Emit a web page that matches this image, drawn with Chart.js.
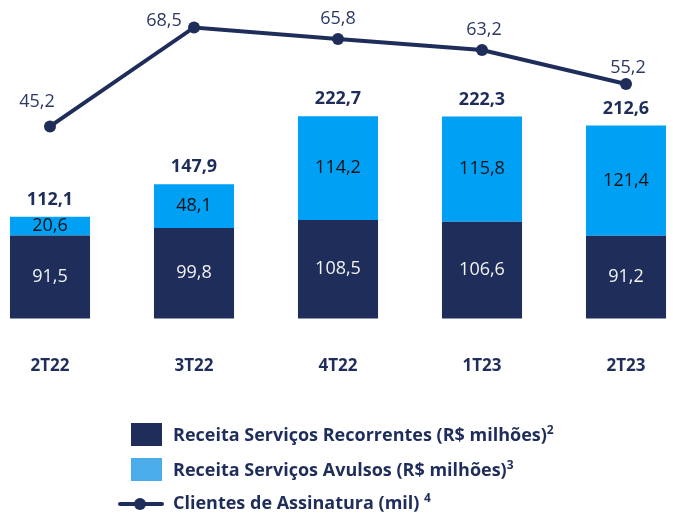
<!DOCTYPE html>
<html>
<head>
<meta charset="utf-8">
<script src="https://cdn.jsdelivr.net/npm/chart.js@4.4.1/dist/chart.umd.min.js"></script>
<style>
  html, body { margin: 0; padding: 0; background: #fff; }
  #wrap { position: relative; width: 673px; height: 514px; font-family: "Open Sans", sans-serif; }
  #chart { position: absolute; left: 0; top: 0; }
  .leg { position: absolute; left: 173px; font-weight: bold; font-size: 18px; color: #1F2D5A; white-space: nowrap; line-height: 22px; }
  .sw { position: absolute; width: 31px; height: 23px; }
  sup { font-size: 12px; vertical-align: 7px; line-height: 0; }
</style>
</head>
<body>
<div id="wrap">
  <canvas id="chart" width="673" height="514"></canvas>
  <div class="sw" style="left:131px; top:423px; background:#1F2D5A"></div>
  <div class="leg" style="top:423px">Receita Serviços Recorrentes (R$ milhões)<sup>2</sup></div>
  <div class="sw" style="left:131px; top:458px; background:#4AACE8"></div>
  <div class="leg" style="top:458px">Receita Serviços Avulsos (R$ milhões)<sup>3</sup></div>
  <svg style="position:absolute; left:118px; top:496px" width="46" height="16">
    <line x1="2" y1="8" x2="44" y2="8" stroke="#1F2D5A" stroke-width="4" stroke-linecap="round"/>
    <circle cx="22" cy="8" r="6" fill="#1F2D5A"/>
  </svg>
  <div class="leg" style="top:491px">Clientes de Assinatura (mil) <sup>4</sup></div>
</div>
<script>
const quarters    = ['2T22', '3T22', '4T22', '1T23', '2T23'];
const recorrentes = [91.5, 99.8, 108.5, 106.6, 91.2];
const avulsos     = [20.6, 48.1, 114.2, 115.8, 121.4];
const totais      = [112.1, 147.9, 222.7, 222.3, 212.6];
const clientes    = [45.2, 68.5, 65.8, 63.2, 55.2];

const NAVY = '#1F2D5A';
const LIGHT = '#00A0F5';
const FONT = '"Open Sans", sans-serif';

const fmt = v => v.toFixed(1).replace('.', ',');

// where each client label sits relative to its point
const lineLabelOffsets = [[-13, -25], [-30, -7], [0, -20], [2, -20], [2, -16]];

const valueLabels = {
  id: 'valueLabels',
  afterDatasetsDraw(chart) {
    const ctx = chart.ctx;
    ctx.save();
    ctx.textAlign = 'center';
    ctx.textBaseline = 'middle';

    // values inside each bar segment
    [0, 1].forEach(di => {
      const meta = chart.getDatasetMeta(di);
      const ds = chart.data.datasets[di];
      meta.data.forEach((bar, i) => {
        ctx.font = '18px ' + FONT;
        ctx.fillStyle = di === 0 ? '#F2F2F2' : '#111111';
        ctx.fillText(fmt(ds.data[i]), bar.x, (bar.y + bar.base) / 2);
      });
    });

    // totals above the stacks
    const top = chart.getDatasetMeta(1);
    top.data.forEach((bar, i) => {
      ctx.font = 'bold 18px ' + FONT;
      ctx.fillStyle = NAVY;
      ctx.fillText(fmt(totais[i]), bar.x, bar.y - 17);
    });

    // client counts next to the line points
    const line = chart.getDatasetMeta(2);
    line.data.forEach((pt, i) => {
      ctx.font = '18px ' + FONT;
      ctx.fillStyle = '#2B3862';
      const [dx, dy] = lineLabelOffsets[i];
      ctx.fillText(fmt(clientes[i]), pt.x + dx, pt.y + dy);
    });
    ctx.restore();
  }
};

new Chart(document.getElementById('chart'), {
  data: {
    labels: quarters,
    datasets: [
      {
        type: 'bar',
        label: 'Receita Serviços Recorrentes (R$ milhões)',
        data: recorrentes,
        backgroundColor: NAVY,
        stack: 'receita',
        yAxisID: 'y',
        order: 2,
        categoryPercentage: 1,
        barPercentage: 0.556,
        clip: false
      },
      {
        type: 'bar',
        label: 'Receita Serviços Avulsos (R$ milhões)',
        data: avulsos,
        backgroundColor: LIGHT,
        stack: 'receita',
        yAxisID: 'y',
        order: 2,
        categoryPercentage: 1,
        barPercentage: 0.556,
        clip: false
      },
      {
        type: 'line',
        label: 'Clientes de Assinatura (mil)',
        data: clientes,
        borderColor: NAVY,
        backgroundColor: NAVY,
        borderWidth: 4,
        pointRadius: 6,
        pointBackgroundColor: NAVY,
        pointBorderWidth: 0,
        yAxisID: 'y2',
        order: 1,
        clip: false
      }
    ]
  },
  options: {
    responsive: false,
    animation: false,
    layout: { padding: { left: 50, right: 47, top: 10, bottom: 136 } },
    plugins: {
      legend: { display: false },
      tooltip: { enabled: false }
    },
    scales: {
      x: {
        offset: false,
        // invisible tick marks give the gap between bars and quarter labels
        grid: { drawOnChartArea: false, drawTicks: true, tickLength: 35, color: 'rgba(0,0,0,0)' },
        border: { display: false },
        ticks: {
          padding: 2,
          color: NAVY,
          font: { family: FONT, size: 17, weight: 'bold' }
        }
      },
      y: {
        display: false,
        stacked: true,
        min: 0,
        max: 339.6
      },
      y2: {
        display: false,
        min: 0,
        max: 72.6
      }
    }
  },
  plugins: [valueLabels]
});
</script>
</body>
</html>
